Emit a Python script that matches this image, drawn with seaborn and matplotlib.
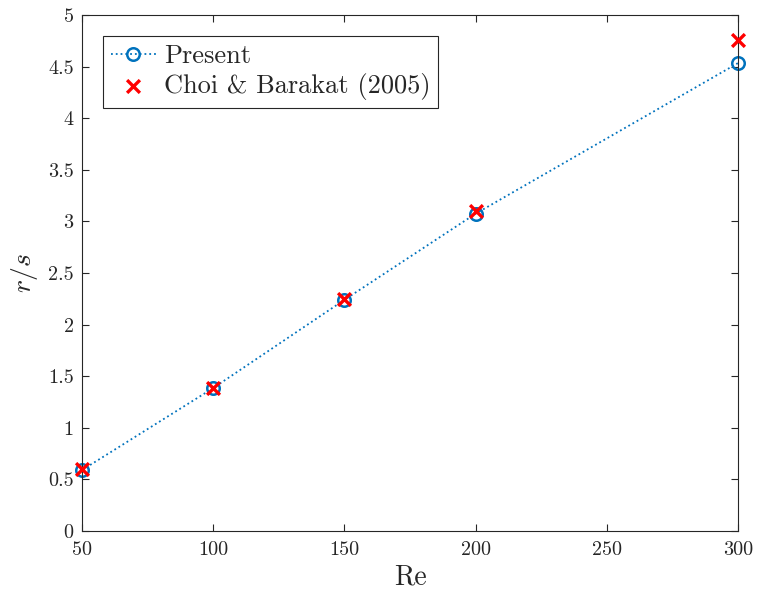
import numpy as np
import pandas as pd
import matplotlib.pyplot as plt
import seaborn as sns

# Data
re_present = [50, 100, 150, 200, 300]
rs_present = [0.59, 1.385, 2.24, 3.075, 4.535]
re_choi = [50, 100, 150, 200, 300]
rs_choi = [0.60, 1.39, 2.25, 3.10, 4.76]
x_ticks = [50, 100, 150, 200, 250, 300]
y_ticks = [0, 0.5, 1, 1.5, 2, 2.5, 3, 3.5, 4, 4.5, 5]
y_ticklabels = ['0', '0.5', '1', '1.5', '2', '2.5', '3', '3.5', '4', '4.5', '5']

sns.set_style('ticks')
plt.rcParams['font.family'] = ['cmr10', 'DejaVu Serif']
plt.rcParams['mathtext.fontset'] = 'cm'
plt.rcParams['axes.formatter.use_mathtext'] = True

df_present = pd.DataFrame({'Re': re_present, 'rs': rs_present})
df_choi = pd.DataFrame({'Re': re_choi, 'rs': rs_choi})

fig = plt.figure(figsize=(7.57, 6.02), dpi=100)
ax = fig.add_axes([0.1083, 0.118, 0.8667, 0.857])

sns.lineplot(data=df_present, x='Re', y='rs', ax=ax, color='#0072BD',
             linestyle=':', linewidth=1.3, marker='o', markersize=9,
             markerfacecolor='none', markeredgecolor='#0072BD',
             markeredgewidth=1.8, label='Present')
sns.scatterplot(data=df_choi, x='Re', y='rs', ax=ax, color='#FF0000',
                marker='x', s=85, linewidth=2.4, label='Choi & Barakat (2005)',
                zorder=5, clip_on=False)
for ln in ax.lines:
    ln.set_clip_on(False)

ax.set_xlim(50, 300)
ax.set_ylim(0, 5)
ax.set_xticks(x_ticks)
ax.set_xticklabels([str(t) for t in x_ticks])
ax.set_yticks(y_ticks)
ax.set_yticklabels(y_ticklabels)
ax.tick_params(direction='in', top=True, right=True, labelsize=14.5,
               length=5, width=0.8, colors='#262626')
ax.tick_params(axis='x', pad=7)
ax.tick_params(axis='y', pad=6)
for sp in ax.spines.values():
    sp.set_visible(True)
    sp.set_color('#262626')
    sp.set_linewidth(0.8)

ax.set_xlabel('Re', fontsize=20, labelpad=4)
ax.set_ylabel(r'$r/s$', fontsize=20, labelpad=6)

leg = ax.legend(loc='upper left', fontsize=19, frameon=True, fancybox=False,
                edgecolor='#262626', framealpha=1, handlelength=1.7,
                borderaxespad=0.8, borderpad=0.3, handletextpad=0.3,
                labelspacing=0.2)
leg.get_frame().set_linewidth(0.8)

plt.savefig('out.png', dpi=100)
plt.close()
